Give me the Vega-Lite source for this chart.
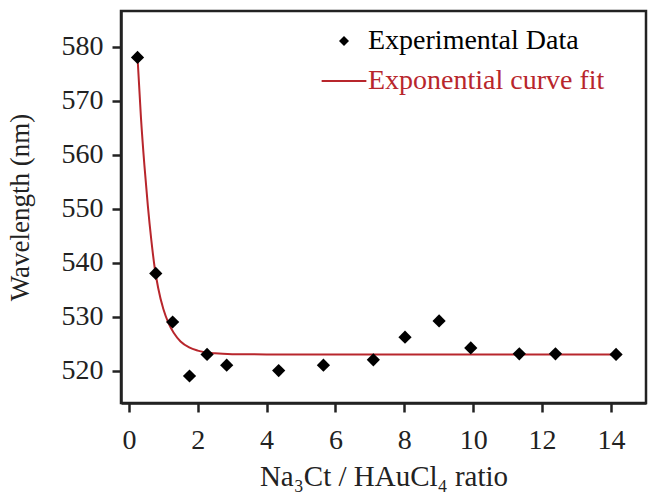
{
  "$schema": "https://vega.github.io/schema/vega-lite/v6.json",
  "width": 525,
  "height": 392,
  "autosize": {"type": "none"},
  "padding": {"left": 121, "top": 11, "right": 3, "bottom": 90},
  "config": {
    "font": "Liberation Serif",
    "background": "white",
    "view": {"stroke": "#222", "strokeWidth": 2.5},
    "axis": {
      "labelFont": "Liberation Serif", "titleFont": "Liberation Serif",
      "labelFontSize": 28, "titleFontSize": 27,
      "labelColor": "#222", "titleColor": "#222", "titleFontWeight": "normal",
      "domainColor": "#222", "domainWidth": 2.5,
      "tickColor": "#222", "tickWidth": 2.5, "tickSize": 9, "grid": false
    }
  },
  "datasets": {
    "points": [
      {"ratio": 0.25, "wavelength": 578},
      {"ratio": 0.78, "wavelength": 538},
      {"ratio": 1.27, "wavelength": 529},
      {"ratio": 1.76, "wavelength": 519},
      {"ratio": 2.27, "wavelength": 523},
      {"ratio": 2.84, "wavelength": 521},
      {"ratio": 4.35, "wavelength": 520},
      {"ratio": 5.65, "wavelength": 521},
      {"ratio": 7.1, "wavelength": 522},
      {"ratio": 8.02, "wavelength": 526.2},
      {"ratio": 9.01, "wavelength": 529.2},
      {"ratio": 9.93, "wavelength": 524.2},
      {"ratio": 11.34, "wavelength": 523.1},
      {"ratio": 12.39, "wavelength": 523.1},
      {"ratio": 14.15, "wavelength": 523}
    ],
    "fit": [
      {"ratio": 0.25, "wavelength": 578},
      {"ratio": 0.35, "wavelength": 566.8},
      {"ratio": 0.45, "wavelength": 558},
      {"ratio": 0.55, "wavelength": 550.5},
      {"ratio": 0.65, "wavelength": 544.2},
      {"ratio": 0.75, "wavelength": 539},
      {"ratio": 0.85, "wavelength": 535.3},
      {"ratio": 1.0, "wavelength": 531.4},
      {"ratio": 1.15, "wavelength": 528.8},
      {"ratio": 1.3, "wavelength": 527.0},
      {"ratio": 1.5, "wavelength": 525.4},
      {"ratio": 1.75, "wavelength": 524.3},
      {"ratio": 2.0, "wavelength": 523.7},
      {"ratio": 2.5, "wavelength": 523.2},
      {"ratio": 3.0, "wavelength": 523.05},
      {"ratio": 4.0, "wavelength": 523},
      {"ratio": 14.3, "wavelength": 523}
    ]
  },
  "layer": [
    {
      "data": {"name": "fit"},
      "mark": {"type": "line", "strokeWidth": 2, "interpolate": "monotone"},
      "encoding": {
        "x": {"field": "ratio", "type": "quantitative"},
        "y": {"field": "wavelength", "type": "quantitative"},
        "color": {
          "datum": "Exponential curve fit",
          "scale": {"domain": ["Experimental Data", "Exponential curve fit"], "range": ["black", "#b8262c"]},
          "legend": {
            "title": null, "orient": "none", "legendX": 209, "legendY": 16,
            "labelFont": "Liberation Serif", "labelFontSize": 28, "labelColor": "black", "labelLimit": 400,
            "symbolSize": 200, "rowPadding": 12, "labelOffset": 10, "padding": 0,
            "encode": {
              "symbols": {"update": {
                "shape": {"signal": "datum.value === 'Experimental Data' ? 'diamond' : 'stroke'"},
                "size": {"signal": "datum.value === 'Experimental Data' ? 100 : 2000"},
                "fill": {"signal": "datum.value === 'Experimental Data' ? 'black' : 'transparent'"},
                "stroke": {"signal": "datum.value === 'Experimental Data' ? 'black' : '#b8262c'"},
                "strokeWidth": {"signal": "datum.value === 'Experimental Data' ? 0 : 2"},
                "opacity": {"value": 1}
              }},
              "labels": {"update": {
                "fill": {"signal": "datum.value === 'Experimental Data' ? 'black' : '#b8262c'"}
              }}
            }
          }
        }
      }
    },
    {
      "data": {"name": "points"},
      "mark": {"type": "point", "shape": "diamond", "filled": true, "size": 175, "opacity": 1},
      "encoding": {
        "x": {
          "field": "ratio", "type": "quantitative",
          "scale": {"domain": [-0.23, 15.02], "nice": false, "zero": false},
          "axis": {"values": [0, 2, 4, 6, 8, 10, 12, 14], "labelPadding": 14, "titlePadding": 8, "titleFontSize": 29},
          "title": "Na₃Ct / HAuCl₄ ratio"
        },
        "y": {
          "field": "wavelength", "type": "quantitative",
          "scale": {"domain": [514, 586.6], "nice": false, "zero": false},
          "axis": {"values": [520, 530, 540, 550, 560, 570, 580], "labelPadding": 9, "titlePadding": 27},
          "title": "Wavelength (nm)"
        },
        "color": {
          "datum": "Experimental Data",
          "legend": {
            "title": null, "orient": "none", "legendX": 209, "legendY": 16,
            "labelFont": "Liberation Serif", "labelFontSize": 28, "labelColor": "black", "labelLimit": 400,
            "symbolSize": 200, "rowPadding": 12, "labelOffset": 10, "padding": 0,
            "encode": {
              "symbols": {"update": {
                "shape": {"signal": "datum.value === 'Experimental Data' ? 'diamond' : 'stroke'"},
                "size": {"signal": "datum.value === 'Experimental Data' ? 100 : 2000"},
                "fill": {"signal": "datum.value === 'Experimental Data' ? 'black' : 'transparent'"},
                "stroke": {"signal": "datum.value === 'Experimental Data' ? 'black' : '#b8262c'"},
                "strokeWidth": {"signal": "datum.value === 'Experimental Data' ? 0 : 2"},
                "opacity": {"value": 1}
              }},
              "labels": {"update": {
                "fill": {"signal": "datum.value === 'Experimental Data' ? 'black' : '#b8262c'"}
              }}
            }
          }
        }
      }
    }
  ]
}
